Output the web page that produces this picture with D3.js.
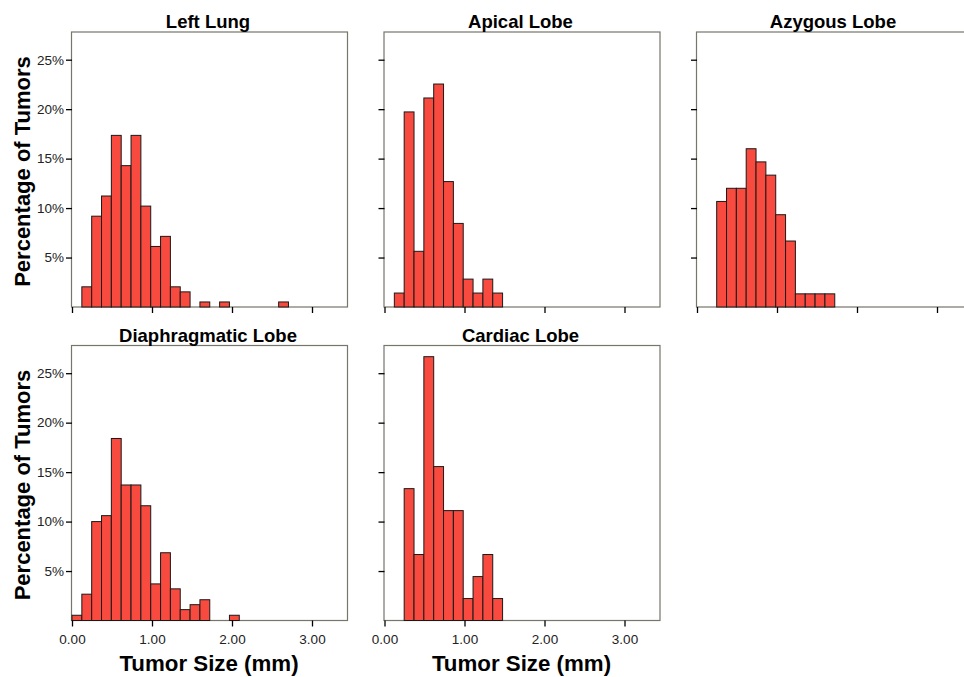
<!DOCTYPE html>
<html><head><meta charset="utf-8">
<script src="https://cdn.jsdelivr.net/npm/d3@7/dist/d3.min.js"></script>
<style>body{margin:0;background:#fff;}svg{display:block;}</style>
</head><body>
<svg id="chart" width="964" height="677"></svg>
<script>
// Data: percentage of tumors per size bin (bin index k covers [k*binWidth, (k+1)*binWidth])
const binWidth = 0.123;
const panelTitles = ["Left Lung", "Apical Lobe", "Azygous Lobe", "Diaphragmatic Lobe", "Cardiac Lobe"];
const leftLung = [0, 2.04, 9.18, 11.22, 17.35, 14.29, 17.35, 10.20, 6.12, 7.14, 2.04, 1.53, 0, 0.51, 0, 0.51, 0, 0, 0, 0, 0, 0.51];
const apicalLobe = [0, 1.41, 19.72, 5.63, 21.13, 22.54, 12.68, 8.45, 2.82, 1.41, 2.82, 1.41];
const azygousLobe = [0, 0, 10.67, 12.0, 12.0, 16.0, 14.67, 13.33, 9.33, 6.67, 1.33, 1.33, 1.33, 1.33];
const diaphragmaticLobe = [0.53, 2.66, 10.0, 10.6, 18.4, 13.7, 13.7, 11.6, 3.7, 6.85, 3.2, 1.1, 1.6, 2.1, 0, 0, 0.53];
const cardiacLobe = [0, 0, 13.33, 6.67, 26.67, 15.56, 11.11, 11.11, 2.22, 4.44, 6.67, 2.22];
const xTicks = [0, 1, 2, 3];
const yTicks = [5, 10, 15, 20, 25];
const yLabel = "Percentage of Tumors";
const xLabel = "Tumor Size (mm)";

const series = [leftLung, apicalLobe, azygousLobe, diaphragmaticLobe, cardiacLobe];

const svg = d3.select("#chart");
const W = 276, H = 275;
const lefts = [72, 384.5, 697];
const tops = [32, 345.5];
const x = d3.scaleLinear().domain([0, 3.45]).range([0, W]);
const y = d3.scaleLinear().domain([0, 27.8]).range([H, 0]);

series.forEach((vals, i) => {
  const col = i % 3, row = Math.floor(i / 3);
  const g = svg.append("g").attr("transform", `translate(${lefts[col]},${tops[row]})`);
  const showY = col === 0;
  const showX = row === 1;

  // frame
  g.append("rect").attr("x", -0.5).attr("y", 0).attr("width", W).attr("height", H)
    .attr("fill", "#fff").attr("stroke", "#76766a").attr("stroke-width", 1.2);

  // bars
  const data = vals.map((v, k) => ({k, v})).filter(d => d.v > 0);
  g.selectAll("rect.bar").data(data).enter().append("rect")
    .attr("class", "bar")
    .attr("x", d => x(d.k * binWidth))
    .attr("width", d => x((d.k + 1) * binWidth) - x(d.k * binWidth))
    .attr("y", d => y(d.v))
    .attr("height", d => H - y(d.v))
    .attr("fill", "#f84a3e").attr("stroke", "#1a1a1a").attr("stroke-width", 1);

  // y axis
  const ya = g.append("g").call(d3.axisLeft(y).tickValues(yTicks).tickSize(6).tickPadding(2)
    .tickFormat(d => showY ? d + "%" : ""));
  ya.select(".domain").remove();
  ya.selectAll("line").attr("stroke", "#000").attr("stroke-width", 1.3);
  ya.selectAll("text").attr("font-family", "Liberation Sans, Arial, sans-serif")
    .attr("font-size", 13.5).attr("fill", "#222");

  // x axis
  const xa = g.append("g").attr("transform", `translate(0,${H})`)
    .call(d3.axisBottom(x).tickValues(xTicks).tickSize(6).tickPadding(8)
    .tickFormat(d => showX ? d3.format(".2f")(d) : ""));
  xa.select(".domain").remove();
  xa.selectAll("line").attr("stroke", "#000").attr("stroke-width", 1.3);
  xa.selectAll("text").attr("font-family", "Liberation Sans, Arial, sans-serif")
    .attr("font-size", 13.5).attr("fill", "#222");

  // title
  g.append("text").attr("x", W / 2 - 2).attr("y", -4).attr("text-anchor", "middle")
    .attr("font-family", "Liberation Sans, Arial, sans-serif").attr("font-weight", "bold")
    .attr("font-size", 18.5).attr("fill", "#000").text(panelTitles[i]);

  if (showY) {
    g.append("text").attr("transform", `translate(${29.5 - lefts[col]},${H / 2 + 2}) rotate(-90)`)
      .attr("text-anchor", "middle")
      .attr("font-family", "Liberation Sans, Arial, sans-serif").attr("font-weight", "bold")
      .attr("font-size", 22).attr("fill", "#000").text(yLabel);
  }
  if (showX) {
    g.append("text").attr("x", W / 2 - 1).attr("y", H + 50).attr("text-anchor", "middle")
      .attr("font-family", "Liberation Sans, Arial, sans-serif").attr("font-weight", "bold")
      .attr("font-size", 22.3).attr("fill", "#000").text(xLabel);
  }
});
</script>
</body></html>
